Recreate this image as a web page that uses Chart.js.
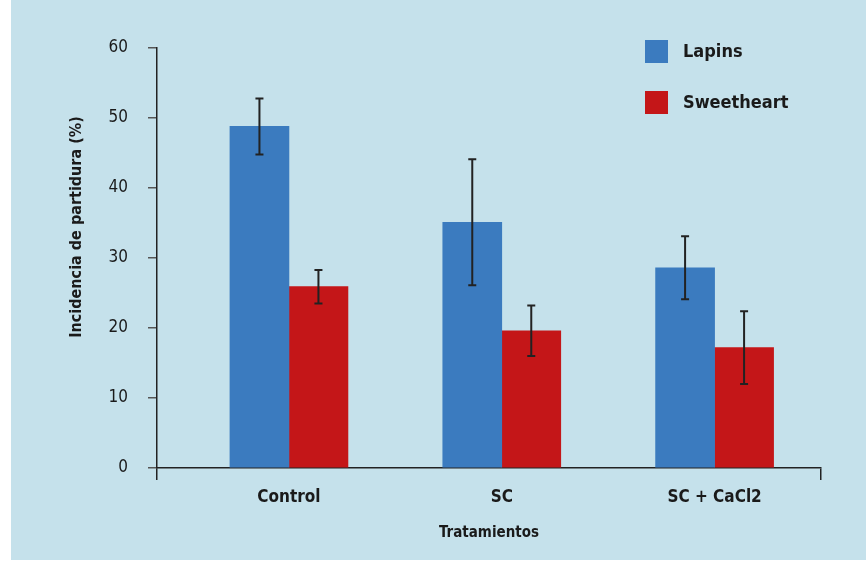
<!DOCTYPE html>
<html>
<head>
<meta charset="utf-8">
<script src="https://cdn.jsdelivr.net/npm/chart.js@4.4.1/dist/chart.umd.min.js"></script>
<style>
  html, body { margin: 0; padding: 0; background: #ffffff; }
  #wrap { width: 866px; height: 562px; }
</style>
</head>
<body>
<div id="wrap"><canvas id="chart" width="866" height="562"></canvas></div>
<script>
// values
const categories = ['Control', 'SC', 'SC + CaCl2'];
const seriesNames = ['Lapins', 'Sweetheart'];
const lapins = [48.8, 35.1, 28.6];
const lapinsErr = [4.0, 9.0, 4.5];
const sweetheart = [25.9, 19.6, 17.2];
const sweetheartErr = [2.4, 3.6, 5.2];
const yTicks = [0, 10, 20, 30, 40, 50, 60];

const FONT = '"DejaVu Sans Condensed", "DejaVu Sans", sans-serif';
const TEXT = '#1a1a1a';

const toPoints = vals => vals.map((v, i) => ({ x: i, y: v }));

// light blue panel behind the chart
const panelBg = {
    id: 'panelBg',
    beforeDraw(chart) {
        const ctx = chart.ctx;
        ctx.save();
        ctx.fillStyle = '#c5e1eb';
        ctx.fillRect(11, 0, chart.width - 11, 560);
        ctx.restore();
    }
};

// error bars from the err arrays
const errorBars = {
    id: 'errorBars',
    afterDatasetsDraw(chart) {
        const ctx = chart.ctx;
        const y = chart.scales.y;
        ctx.save();
        ctx.strokeStyle = '#222';
        ctx.lineWidth = 2;
        chart.data.datasets.forEach((ds, i) => {
            const meta = chart.getDatasetMeta(i);
            meta.data.forEach((bar, j) => {
                const v = ds.data[j].y, e = ds.errors[j];
                const top = y.getPixelForValue(v + e);
                const bot = y.getPixelForValue(v - e);
                ctx.beginPath();
                ctx.moveTo(bar.x, top); ctx.lineTo(bar.x, bot);
                ctx.moveTo(bar.x - 4, top); ctx.lineTo(bar.x + 4, top);
                ctx.moveTo(bar.x - 4, bot); ctx.lineTo(bar.x + 4, bot);
                ctx.stroke();
            });
        });
        ctx.restore();
    }
};

// legend drawn inside the plot, top right
const boxLegend = {
    id: 'boxLegend',
    afterDraw(chart) {
        const ctx = chart.ctx;
        ctx.save();
        ctx.font = 'bold 18px ' + FONT;
        ctx.textBaseline = 'middle';
        chart.data.datasets.forEach((ds, i) => {
            const top = 40 + i * 51;
            ctx.fillStyle = ds.backgroundColor;
            ctx.fillRect(645, top, 23, 23);
            ctx.fillStyle = TEXT;
            ctx.fillText(ds.label, 683, top + 12);
        });
        ctx.restore();
    }
};

// y axis title, sits a bit above the middle in the original
const yTitle = {
    id: 'yTitle',
    afterDraw(chart) {
        const ctx = chart.ctx;
        ctx.save();
        ctx.translate(77, 227);
        ctx.rotate(-Math.PI / 2);
        ctx.font = 'bold 16px ' + FONT;
        ctx.fillStyle = TEXT;
        ctx.textAlign = 'center';
        ctx.textBaseline = 'middle';
        ctx.fillText('Incidencia de partidura (%)', 0, 0);
        ctx.restore();
    }
};

new Chart(document.getElementById('chart'), {
    type: 'bar',
    data: {
        datasets: [
            { label: seriesNames[0], data: toPoints(lapins), errors: lapinsErr, backgroundColor: '#3b7bbf' },
            { label: seriesNames[1], data: toPoints(sweetheart), errors: sweetheartErr, backgroundColor: '#c41618' }
        ]
    },
    options: {
        responsive: false,
        animation: false,
        barThickness: 59,
        layout: { padding: { left: 0, right: 45, top: 48, bottom: 0 } },
        plugins: {
            legend: { display: false },
            tooltip: { enabled: false }
        },
        scales: {
            x: {
                type: 'linear',
                offset: false,
                min: -0.62,
                max: 2.5,
                afterBuildTicks: scale => {
                    scale.ticks = [{ value: -0.62 }].concat(categories.map((c, i) => ({ value: i })), [{ value: 2.5 }]);
                },
                afterFit: scale => { scale.height = 94; },
                ticks: {
                    padding: 7,
                    color: TEXT,
                    font: { family: FONT, size: 17, weight: 'bold' },
                    callback: v => Number.isInteger(v) ? categories[v] : ''
                },
                grid: {
                    offset: false,
                    drawOnChartArea: false,
                    tickLength: 12,
                    lineWidth: 1.5,
                    color: c => (c.tick && Number.isInteger(c.tick.value)) ? 'rgba(0,0,0,0)' : '#222'
                },
                border: { color: '#222', width: 1.5 },
                title: {
                    display: true,
                    text: 'Tratamientos',
                    color: TEXT,
                    font: { family: FONT, size: 15, weight: 'bold' },
                    padding: { top: 0, bottom: 20 }
                }
            },
            y: {
                min: 0,
                max: 60,
                afterBuildTicks: scale => { scale.ticks = yTicks.map(v => ({ value: v })); },
                afterFit: scale => { scale.width = 157; },
                ticks: {
                    padding: 20,
                    color: TEXT,
                    font: { family: FONT, size: 17 }
                },
                grid: {
                    drawOnChartArea: false,
                    tickLength: 9,
                    lineWidth: 1.5,
                    color: '#555'
                },
                border: { color: '#222', width: 1.5 }
            }
        }
    },
    plugins: [panelBg, errorBars, boxLegend, yTitle]
});
</script>
</body>
</html>
